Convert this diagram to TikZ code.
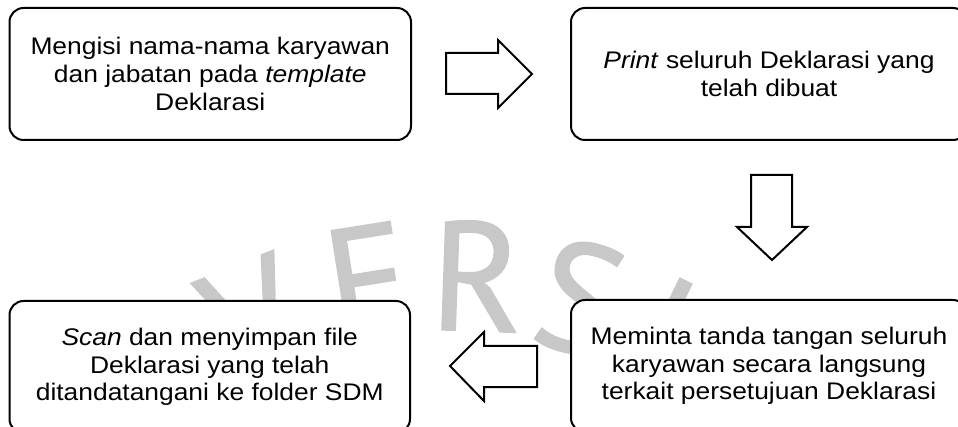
\documentclass[tikz,border=0pt]{standalone}
\usepackage{fontspec}
\setmainfont[FakeStretch=1.1]{Liberation Sans}
\newfontfamily\wmfont[FakeBold=1.2]{PT Sans}
\definecolor{wmgray}{RGB}{200,200,200}
\begin{document}
\begin{tikzpicture}[x=1pt,y=-1pt,
  box/.style={draw, line width=2pt, rounded corners=14pt, fill=white,
    align=center, inner sep=0pt, font=\fontsize{24}{27.6}\selectfont},
  blockarrow/.style={draw, line width=2pt, fill=white, line join=miter},
  wm/.style={text=wmgray, inner sep=0pt, scale=1.55, font=\wmfont\fontsize{100}{100}\selectfont}]
\useasboundingbox (0,0) rectangle (958,427);
\clip (0,0) rectangle (958,427);
% watermark
\node[wm, rotate=22]  (wv) at (253,318) {V};
\node[wm, rotate=9]   (we) at (368,280) {E};
\node[wm, rotate=-2]  (wr) at (477,276) {R};
\node[wm, rotate=-14] (ws) at (580,298) {S};
\node[wm, rotate=-26] (wi) at (662,330) {I};
% boxes
\node[box, minimum width=401.5pt, minimum height=132pt] (b1) at (210.25,74)
  {Mengisi nama-nama karyawan\\dan jabatan pada \textit{template}\\Deklarasi};
\node[box, minimum width=396pt, minimum height=132pt] (b2) at (769,74)
  {\textit{Print} seluruh Deklarasi yang\\telah dibuat};
\node[box, minimum width=396pt, minimum height=132pt] (b3) at (769,366)
  {Meminta tanda tangan seluruh\\karyawan secara langsung\\terkait persetujuan Deklarasi};
\node[box, minimum width=400.5pt, minimum height=132pt] (b4) at (209.75,367)
  {\textit{Scan} dan menyimpan file\\Deklarasi yang telah\\ditandatangani ke folder SDM};
% block arrows
\draw[blockarrow] (446,53) -- (498,53) -- (498,40) -- (532,74) -- (498,108) -- (498,94) -- (446,94) -- cycle;
\draw[blockarrow] (751,175) -- (792,175) -- (792,227) -- (807,227) -- (772,260) -- (737,227) -- (751,227) -- cycle;
\draw[blockarrow] (537,346) -- (484,346) -- (484,332) -- (450,366) -- (484,401) -- (484,387) -- (537,387) -- cycle;
\end{tikzpicture}
\end{document}
